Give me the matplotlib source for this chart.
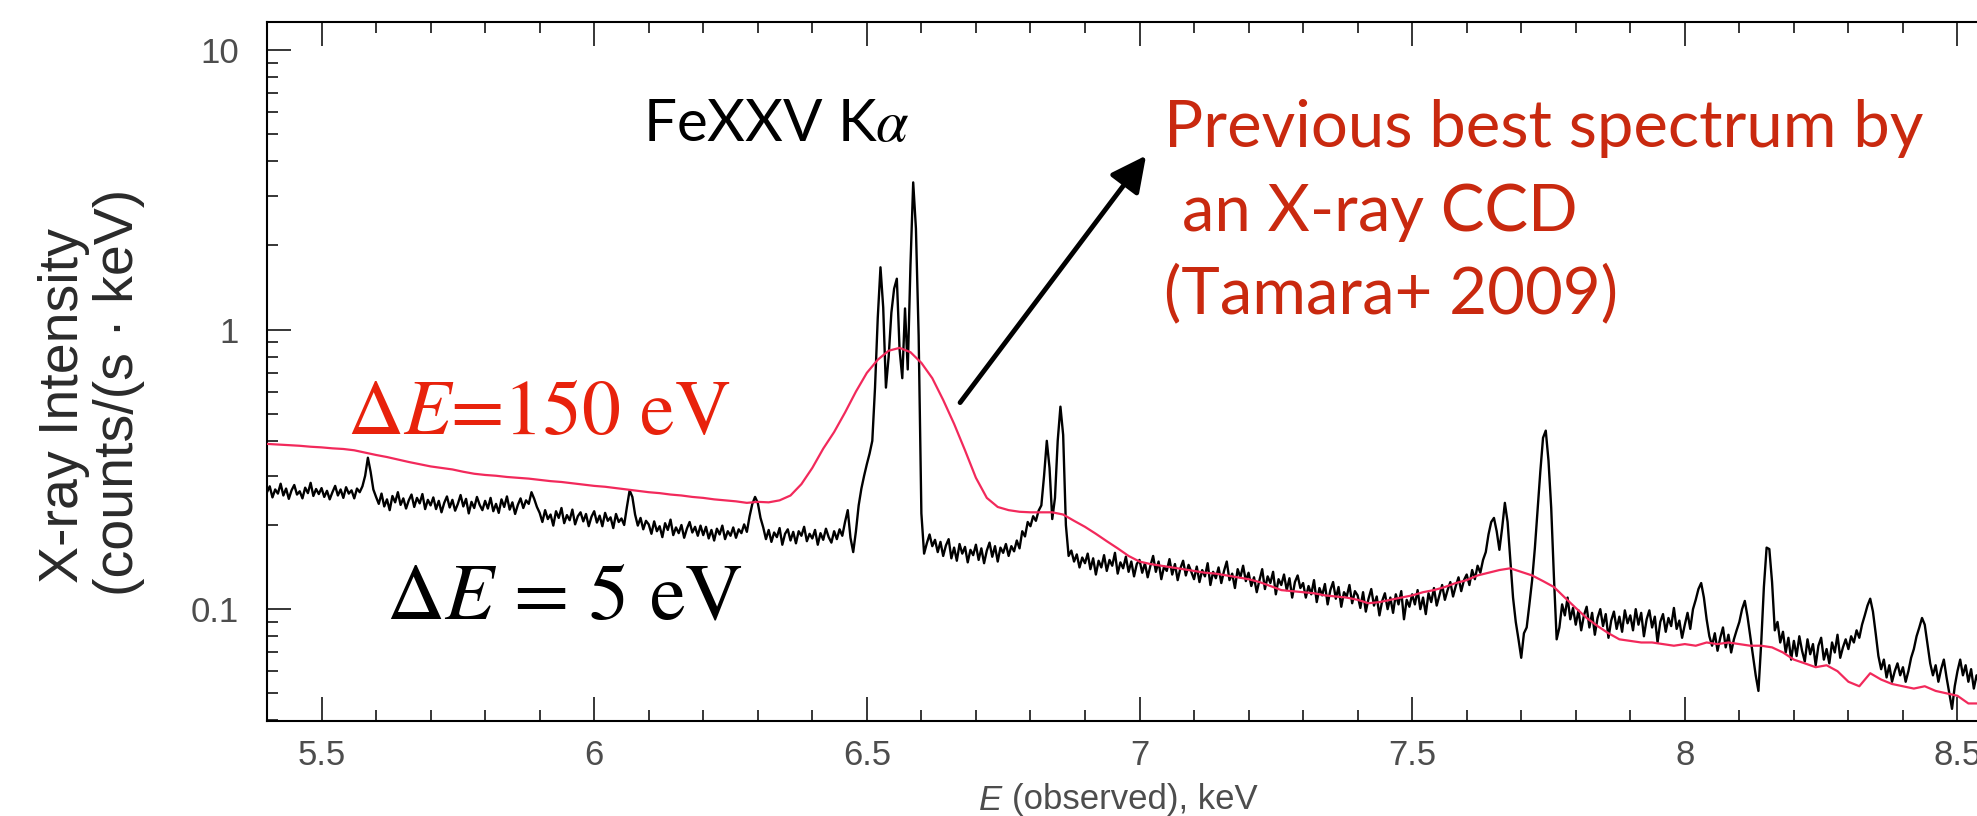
import numpy as np
import matplotlib
matplotlib.use("Agg")
import matplotlib.pyplot as plt
from matplotlib.ticker import FixedLocator, FixedFormatter, MultipleLocator, LogLocator, NullFormatter

plt.rcParams["mathtext.fontset"] = "stix"

# ---------------------------------------------------------------
# SXS spectrum (Delta E = 5 eV), 5 eV bins starting at 5.40 keV
# ---------------------------------------------------------------
sxs_e0 = 5.40
sxs_step = 0.005

sxs_540_595 = [
    0.262, 0.275, 0.251, 0.268, 0.259, 0.281, 0.255, 0.270, 0.248, 0.266, 0.278, 0.257, 0.264, 0.249, 0.272, 0.260, 0.283, 0.254, 0.269, 0.258,
    0.271, 0.252, 0.265, 0.247, 0.262, 0.276, 0.255, 0.268, 0.250, 0.273, 0.259, 0.266, 0.249, 0.270, 0.262, 0.275, 0.300, 0.348, 0.310, 0.268,
    0.252, 0.238, 0.259, 0.233, 0.247, 0.226, 0.254, 0.241, 0.262, 0.236, 0.249, 0.229, 0.245, 0.257, 0.232, 0.250, 0.239, 0.258, 0.228, 0.246,
    0.235, 0.251, 0.228, 0.244, 0.222, 0.240, 0.253, 0.231, 0.246, 0.225, 0.238, 0.256, 0.233, 0.248, 0.220, 0.242, 0.230, 0.252, 0.236, 0.226,
    0.244, 0.229, 0.250, 0.224, 0.238, 0.221, 0.247, 0.232, 0.253, 0.227, 0.241, 0.219, 0.236, 0.249, 0.230, 0.245, 0.238, 0.262, 0.248, 0.232,
    0.221, 0.205, 0.226, 0.210, 0.218, 0.199, 0.224, 0.212, 0.230, 0.203, 0.217, 0.208, 0.227, 0.201, 0.215, 0.222, 0.206, 0.219, 0.198, 0.214,
]
sxs_600_645 = [
    0.224, 0.204, 0.216, 0.198, 0.221, 0.207, 0.213, 0.195, 0.219, 0.205, 0.211, 0.200, 0.232, 0.266, 0.252, 0.218, 0.199, 0.212, 0.193, 0.207,
    0.201, 0.186, 0.206, 0.190, 0.198, 0.181, 0.203, 0.192, 0.209, 0.184, 0.196, 0.187, 0.200, 0.180, 0.194, 0.205, 0.188, 0.197, 0.183, 0.199,
    0.184, 0.197, 0.179, 0.192, 0.176, 0.194, 0.185, 0.199, 0.178, 0.190, 0.183, 0.196, 0.180, 0.193, 0.187, 0.201, 0.189, 0.215, 0.238, 0.252,
    0.240, 0.212, 0.196, 0.178, 0.192, 0.174, 0.188, 0.181, 0.195, 0.170, 0.186, 0.193, 0.176, 0.189, 0.172, 0.190, 0.183, 0.197, 0.175, 0.186,
    0.179, 0.192, 0.170, 0.187, 0.177, 0.194, 0.181, 0.173, 0.190, 0.178, 0.193, 0.183, 0.205, 0.226, 0.180, 0.160, 0.190, 0.235, 0.270, 0.300,
]
# Fe XXV He-alpha complex (w, x, y, z) and Fe XXVI Ly-alpha region
sxs_650_695 = [
    0.330, 0.360, 0.400, 0.620, 1.100, 1.670, 1.200, 0.620, 0.800, 1.150, 1.400, 1.520, 0.850, 0.670, 1.190, 0.720, 1.700, 3.360, 2.300, 0.950,
    0.220, 0.158, 0.172, 0.185, 0.168, 0.177, 0.160, 0.174, 0.155, 0.169, 0.178, 0.152, 0.166, 0.149, 0.171, 0.158, 0.167, 0.147, 0.163, 0.156,
    0.170, 0.150, 0.165, 0.146, 0.162, 0.173, 0.154, 0.168, 0.148, 0.166, 0.159, 0.171, 0.155, 0.168, 0.161, 0.176, 0.165, 0.190, 0.182, 0.205,
    0.198, 0.215, 0.207, 0.225, 0.235, 0.300, 0.400, 0.320, 0.210, 0.250, 0.400, 0.530, 0.420, 0.200, 0.155, 0.162, 0.148, 0.157, 0.141, 0.153,
    0.146, 0.158, 0.139, 0.152, 0.133, 0.149, 0.141, 0.156, 0.137, 0.150, 0.143, 0.159, 0.134, 0.147, 0.140, 0.154, 0.136, 0.148, 0.131, 0.145,
]
sxs_700_745 = [
    0.150, 0.135, 0.146, 0.130, 0.143, 0.155, 0.136, 0.148, 0.128, 0.142, 0.137, 0.151, 0.133, 0.145, 0.127, 0.140, 0.149, 0.132, 0.144, 0.136,
    0.128, 0.142, 0.125, 0.138, 0.131, 0.146, 0.122, 0.136, 0.129, 0.141, 0.124, 0.137, 0.148, 0.127, 0.134, 0.119, 0.139, 0.130, 0.143, 0.126,
    0.135, 0.121, 0.130, 0.115, 0.127, 0.139, 0.118, 0.131, 0.124, 0.136, 0.113, 0.128, 0.122, 0.133, 0.117, 0.129, 0.110, 0.125, 0.132, 0.119,
    0.124, 0.110, 0.121, 0.113, 0.127, 0.106, 0.119, 0.112, 0.123, 0.104, 0.117, 0.125, 0.109, 0.120, 0.102, 0.115, 0.111, 0.122, 0.105, 0.116,
    0.112, 0.101, 0.115, 0.098, 0.109, 0.118, 0.103, 0.111, 0.095, 0.107, 0.114, 0.100, 0.110, 0.097, 0.113, 0.104, 0.116, 0.092, 0.108, 0.102,
]
sxs_750_795 = [
    0.113, 0.104, 0.117, 0.100, 0.110, 0.096, 0.114, 0.106, 0.119, 0.103, 0.112, 0.122, 0.108, 0.117, 0.125, 0.111, 0.121, 0.130, 0.116, 0.127,
    0.133, 0.122, 0.138, 0.128, 0.143, 0.135, 0.150, 0.160, 0.185, 0.205, 0.212, 0.190, 0.163, 0.195, 0.240, 0.205, 0.150, 0.110, 0.090, 0.078,
    0.067, 0.082, 0.086, 0.104, 0.127, 0.165, 0.225, 0.310, 0.410, 0.435, 0.340, 0.230, 0.130, 0.078, 0.086, 0.104, 0.095, 0.110, 0.092, 0.101,
    0.088, 0.099, 0.084, 0.095, 0.102, 0.086, 0.097, 0.081, 0.093, 0.100, 0.087, 0.096, 0.079, 0.091, 0.098, 0.085, 0.094, 0.083, 0.099, 0.089,
    0.095, 0.084, 0.100, 0.088, 0.097, 0.080, 0.092, 0.099, 0.086, 0.094, 0.076, 0.090, 0.096, 0.083, 0.093, 0.087, 0.101, 0.085, 0.091, 0.079,
]
sxs_800_859 = [
    0.088, 0.097, 0.085, 0.100, 0.108, 0.118, 0.124, 0.110, 0.092, 0.080, 0.074, 0.082, 0.071, 0.079, 0.086, 0.073, 0.081, 0.070, 0.078, 0.084,
    0.090, 0.100, 0.107, 0.094, 0.080, 0.068, 0.058, 0.051, 0.075, 0.120, 0.166, 0.164, 0.125, 0.084, 0.090, 0.076, 0.083, 0.070, 0.079, 0.066,
    0.077, 0.068, 0.080, 0.071, 0.065, 0.078, 0.069, 0.075, 0.063, 0.074, 0.079, 0.066, 0.072, 0.064, 0.076, 0.070, 0.081, 0.067, 0.073, 0.078,
    0.072, 0.080, 0.076, 0.084, 0.079, 0.088, 0.095, 0.103, 0.109, 0.098, 0.082, 0.068, 0.061, 0.066, 0.057, 0.063, 0.055, 0.060, 0.064, 0.058,
    0.062, 0.055, 0.060, 0.067, 0.072, 0.080, 0.086, 0.093, 0.088, 0.075, 0.064, 0.058, 0.063, 0.055, 0.061, 0.066, 0.057, 0.050, 0.044, 0.053,
    0.060, 0.066, 0.058, 0.063, 0.055, 0.061, 0.052, 0.058, 0.054, 0.060, 0.051, 0.057, 0.053, 0.059, 0.050, 0.056, 0.052, 0.058, 0.049, 0.055,
]

# ---------------------------------------------------------------
# X-ray CCD spectrum (Delta E = 150 eV), 20 eV bins from 5.40 keV
# ---------------------------------------------------------------
ccd_e0 = 5.40
ccd_step = 0.02

ccd_540_638 = [
    0.390, 0.388, 0.386, 0.384, 0.381, 0.379, 0.376, 0.374, 0.370, 0.363,
    0.356, 0.350, 0.343, 0.336, 0.330, 0.324, 0.320, 0.316, 0.310, 0.305,
    0.302, 0.300, 0.297, 0.295, 0.293, 0.290, 0.287, 0.285, 0.282, 0.279,
    0.276, 0.274, 0.271, 0.268, 0.265, 0.262, 0.260, 0.257, 0.255, 0.252,
    0.250, 0.247, 0.245, 0.243, 0.240, 0.242, 0.241, 0.245, 0.255, 0.280,
]
ccd_640_738 = [
    0.320, 0.375, 0.430, 0.505, 0.600, 0.700, 0.780, 0.840, 0.860, 0.830,
    0.760, 0.670, 0.560, 0.460, 0.370, 0.295, 0.250, 0.232, 0.226, 0.223,
    0.222, 0.222, 0.222, 0.218, 0.207, 0.197, 0.186, 0.175, 0.165, 0.155,
    0.148, 0.145, 0.143, 0.141, 0.139, 0.137, 0.135, 0.134, 0.132, 0.130,
    0.128, 0.125, 0.121, 0.117, 0.116, 0.115, 0.114, 0.112, 0.111, 0.110,
]
ccd_740_860 = [
    0.108, 0.105, 0.106, 0.108, 0.110, 0.112, 0.115, 0.117, 0.120, 0.124,
    0.127, 0.132, 0.135, 0.138, 0.140, 0.136, 0.132, 0.126, 0.120, 0.110,
    0.101, 0.093, 0.087, 0.082, 0.078, 0.077, 0.076, 0.076, 0.075, 0.074,
    0.075, 0.074, 0.076, 0.075, 0.076, 0.075, 0.074, 0.074, 0.073, 0.070,
    0.066, 0.064, 0.062, 0.063, 0.060, 0.055, 0.053, 0.059, 0.056, 0.054,
    0.053, 0.052, 0.053, 0.051, 0.050, 0.049, 0.046, 0.046, 0.045, 0.044,
    0.044,
]

x_ticks = [5.5, 6, 6.5, 7, 7.5, 8, 8.5]
x_ticklabels = ["5.5", "6", "6.5", "7", "7.5", "8", "8.5"]
y_ticks = [0.1, 1, 10]
y_ticklabels = ["0.1", "1", "10"]

# ---------------------------------------------------------------
sxs_counts = np.array(sxs_540_595 + sxs_600_645 + sxs_650_695
                      + sxs_700_745 + sxs_750_795 + sxs_800_859)
sxs_energy = sxs_e0 + sxs_step * np.arange(sxs_counts.size)
ccd_counts = np.array(ccd_540_638 + ccd_640_738 + ccd_740_860)
ccd_energy = ccd_e0 + ccd_step * np.arange(ccd_counts.size)

W, H = 1977, 816
fig = plt.figure(figsize=(W / 100, H / 100), dpi=100, facecolor="white")


def fx(px):
    return px / W


def fy(py):
    return 1 - py / H


ax = fig.add_axes([fx(267), fy(721), fx(2012) - fx(267), fy(22) - fy(721)])
ax.set_yscale("log")
ax.set_xlim(5.4, 8.6)
ax.set_ylim(10 ** -1.4, 10 ** 1.1)

ax.plot(sxs_energy, sxs_counts, color="black", lw=1.7, zorder=3)
ax.plot(ccd_energy, ccd_counts, color="#f2295b", lw=1.6, zorder=4)

for s in ax.spines.values():
    s.set_linewidth(1.5)
    s.set_color("black")

ax.xaxis.set_major_locator(FixedLocator(x_ticks))
ax.xaxis.set_major_formatter(FixedFormatter(x_ticklabels))
ax.xaxis.set_minor_locator(MultipleLocator(0.1))
ax.yaxis.set_major_locator(FixedLocator(y_ticks))
ax.yaxis.set_major_formatter(FixedFormatter(y_ticklabels))
ax.yaxis.set_minor_locator(LogLocator(base=10, subs=np.arange(2, 10)))
ax.yaxis.set_minor_formatter(NullFormatter())

ax.tick_params(axis="both", which="both", direction="in", top=True, right=True,
               colors="black", labelcolor="#4d4d4d")
ax.tick_params(axis="both", which="major", length=17, width=1.1)
ax.tick_params(axis="both", which="minor", length=8, width=1.1)
ax.tick_params(axis="x", which="major", pad=13)
ax.tick_params(axis="y", which="major", pad=20)
for lab in ax.get_xticklabels() + ax.get_yticklabels():
    lab.set_fontfamily("Liberation Sans")
    lab.set_fontsize(25)

# axis titles
fig.text(fx(979), fy(800), "E", fontfamily="Liberation Sans", fontstyle="italic",
         fontsize=25, color="#4d4d4d", ha="left", va="center")
fig.text(fx(1012), fy(800), "(observed), keV", fontfamily="Liberation Sans",
         fontsize=25, color="#4d4d4d", ha="left", va="center")
fig.text(fx(64), fy(406), "X-ray Intensity", fontfamily="Liberation Sans",
         fontsize=40, color="#2a2a2a", rotation=90, ha="center", va="center")
fig.text(fx(119), fy(392), "(counts/(s \u00b7 keV)", fontfamily="Liberation Sans",
         fontsize=40, color="#2a2a2a", rotation=90, ha="center", va="center")

# annotations
ax.text(6.09, 4.74, r"FeXXV K$\alpha$", fontfamily="Lato", fontsize=42,
        color="black", ha="left", va="baseline")

red_text = "#c9290f"
ax.text(7.045, 4.48, "Previous best spectrum by", fontfamily="Lato", fontsize=47,
        color=red_text, ha="left", va="baseline")
ax.text(7.078, 2.26, "an X-ray CCD", fontfamily="Lato", fontsize=47,
        color=red_text, ha="left", va="baseline")
ax.text(7.045, 1.14, "(Tamara+ 2009)", fontfamily="Lato", fontsize=47,
        color=red_text, ha="left", va="baseline")

ax.text(5.547, 0.424, r"$\Delta E$=150 eV", fontfamily="STIXGeneral", fontsize=56,
        color="#e8220c", ha="left", va="baseline")
ax.text(5.619, 0.0924, r"$\Delta E$ = 5 eV", fontfamily="STIXGeneral", fontsize=58,
        color="black", ha="left", va="baseline")

ax.annotate("", xy=(7.012, 4.19), xytext=(6.671, 0.548),
            arrowprops=dict(arrowstyle="-|>,head_length=0.9,head_width=0.45",
                            lw=3.5, color="black", shrinkA=0, shrinkB=0,
                            mutation_scale=24))

fig.savefig("out.png", dpi=100, facecolor="white")
